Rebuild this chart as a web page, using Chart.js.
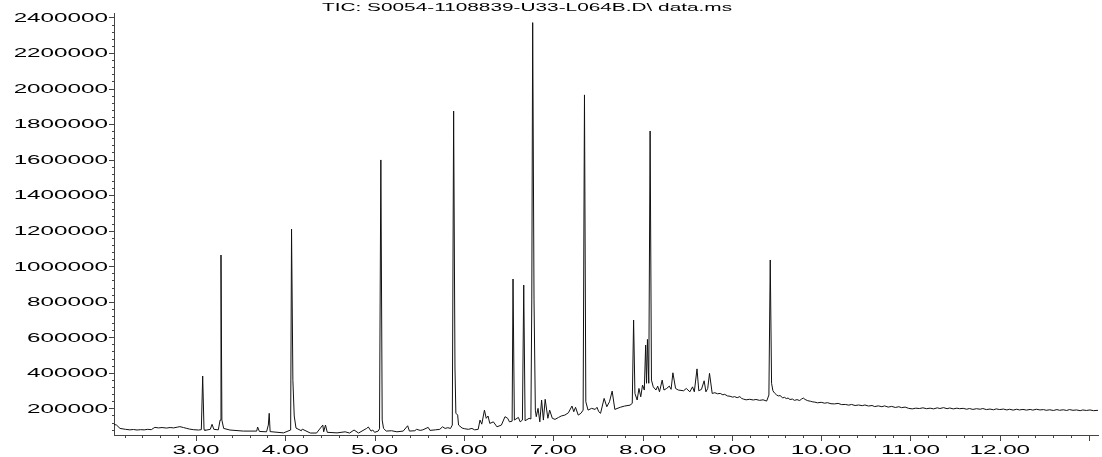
<!DOCTYPE html>
<html>
<head>
<meta charset="utf-8">
<script src="https://cdn.jsdelivr.net/npm/chart.js@4.4.1/dist/chart.umd.min.js"></script>
<style>
    html, body { margin: 0; padding: 0; background: #ffffff; }
    #wrap { width: 1102px; height: 457px; }
</style>
</head>
<body>
<div id="wrap"><canvas id="ticChart" width="1102" height="457"></canvas></div>
<script>
// Titel en assen
const chartTitle = 'TIC: S0054-1108839-U33-L064B.D\\ data.ms';
const xMajorTicks = [3, 4, 5, 6, 7, 8, 9, 10, 11, 12, 13];
const xTickLabels = ['3.00', '4.00', '5.00', '6.00', '7.00', '8.00', '9.00', '10.00', '11.00', '12.00', ''];
const yMajorTicks = [200000, 400000, 600000, 800000, 1000000, 1200000, 1400000, 1600000, 1800000, 2000000, 2200000, 2400000];
const yTickLabels = ['200000', '400000', '600000', '800000', '1000000', '1200000', '1400000', '1600000', '1800000', '2000000', '2200000', '2400000'];

const retentionTimes = [
    2.08, 2.11, 2.15, 2.21, 2.26, 2.30, 2.34, 2.38, 2.42, 2.46, 2.50,
    2.52, 2.54, 2.58, 2.62, 2.67, 2.71, 2.75, 2.79, 2.82, 2.86, 2.89, 2.93, 2.97, 3.03,
    3.06, 3.075, 3.09, 3.10, 3.16, 3.18, 3.20, 3.25, 3.27, 3.28, 3.29, 3.31, 3.38,
    3.53, 3.68, 3.69, 3.71, 3.79, 3.81, 3.82, 3.83, 3.98, 4.06, 4.07, 4.085, 4.10, 4.12,
    4.18, 4.19, 4.28, 4.35, 4.42, 4.43, 4.45, 4.47, 4.58, 4.67, 4.72, 4.77, 4.82,
    4.91, 4.93, 4.96, 4.98, 5.00, 5.04, 5.055, 5.07, 5.085, 5.10, 5.13, 5.19, 5.25,
    5.32, 5.37, 5.39, 5.45, 5.47, 5.51, 5.54, 5.60, 5.62, 5.68, 5.73, 5.76, 5.79,
    5.82, 5.85, 5.87, 5.885, 5.90, 5.91, 5.93, 5.94, 5.98, 6.01, 6.05, 6.09, 6.12,
    6.16, 6.18, 6.20, 6.23, 6.25, 6.27, 6.29, 6.33, 6.37, 6.42, 6.46, 6.49, 6.51,
    6.54, 6.55, 6.565, 6.61, 6.63, 6.655, 6.67, 6.685, 6.73, 6.75, 6.76, 6.77, 6.785,
    6.80, 6.81, 6.83, 6.85, 6.87, 6.89, 6.91, 6.94, 6.96, 6.99, 7.02, 7.06, 7.09,
    7.13, 7.17, 7.21, 7.23, 7.25, 7.28, 7.31, 7.335, 7.35, 7.365, 7.39, 7.43, 7.47,
    7.49, 7.51, 7.53, 7.57, 7.60, 7.63, 7.66, 7.69, 7.75, 7.80, 7.86, 7.885, 7.90,
    7.915, 7.94, 7.96, 7.98, 8.00, 8.02, 8.035, 8.045, 8.055, 8.07, 8.085, 8.10, 8.12,
    8.15, 8.17, 8.19, 8.22, 8.24, 8.27, 8.30, 8.32, 8.34, 8.37, 8.40, 8.46, 8.49,
    8.53, 8.56, 8.58, 8.61, 8.63, 8.66, 8.69, 8.71, 8.73, 8.75, 8.78,
    8.81, 8.84, 8.87, 8.90, 8.92, 8.95, 8.98, 9.01, 9.03, 9.06, 9.09, 9.11, 9.13, 9.16, 9.20, 9.24, 9.27, 9.31, 9.35, 9.39,
    9.415, 9.43, 9.445, 9.46, 9.48, 9.50, 9.52, 9.54, 9.57, 9.59, 9.61, 9.63, 9.65, 9.68, 9.70, 9.73, 9.76, 9.78, 9.80, 9.82, 9.85, 9.88, 9.90,
    9.93, 9.96, 10.00, 10.04, 10.07, 10.11, 10.15, 10.19, 10.23, 10.27, 10.31, 10.34, 10.38, 10.42, 10.46, 10.49, 10.53, 10.57, 10.60, 10.64,
    10.68, 10.71, 10.75, 10.79, 10.83, 10.87, 10.90, 10.94, 10.98, 11.02, 11.06, 11.10, 11.14, 11.18, 11.22, 11.26, 11.30, 11.33, 11.37, 11.41,
    11.44, 11.48, 11.52, 11.55, 11.59, 11.63, 11.66, 11.70, 11.74, 11.78, 11.81, 11.85, 11.89, 11.93, 11.96, 12.00, 12.04, 12.08, 12.11, 12.15,
    12.19, 12.22, 12.26, 12.30, 12.34, 12.37, 12.41, 12.45, 12.49, 12.52, 12.56, 12.60, 12.64, 12.67, 12.71, 12.75, 12.78, 12.82, 12.86, 12.90,
    12.93, 12.97, 13.01, 13.05, 13.10
];
const abundances = [
    110000, 106000, 87000, 82000, 79000, 81000, 78000, 80000, 79000, 82000, 80000,
    87000, 93000, 90000, 92000, 89000, 92000, 90000, 94000, 97000, 92000, 88000, 83000, 80000, 78000,
    80000, 382000, 80000, 76000, 82000, 110000, 82000, 79000, 134000, 1063000, 134000, 87000, 78000,
    72000, 72000, 95000, 70000, 68000, 106000, 172000, 69000, 62000, 78000, 1209000, 358000, 157000, 89000,
    74000, 83000, 61000, 61000, 106000, 68000, 106000, 65000, 62000, 68000, 61000, 78000, 61000,
    87000, 95000, 72000, 78000, 65000, 72000, 85000, 1598000, 134000, 87000, 72000, 74000, 68000,
    72000, 102000, 72000, 74000, 82000, 76000, 79000, 93000, 76000, 79000, 82000, 96000, 87000,
    91000, 87000, 106000, 1873000, 427000, 173000, 162000, 106000, 89000, 85000, 82000, 87000, 79000,
    82000, 134000, 111000, 190000, 144000, 157000, 115000, 124000, 96000, 106000, 153000, 144000, 124000,
    128000, 928000, 134000, 149000, 124000, 134000, 894000, 130000, 144000, 140000, 810000, 2371000, 810000,
    190000, 153000, 200000, 124000, 247000, 134000, 251000, 144000, 190000, 144000, 138000, 149000, 157000,
    162000, 175000, 213000, 181000, 206000, 162000, 172000, 190000, 1964000, 237000, 190000, 200000, 194000,
    206000, 181000, 172000, 256000, 209000, 237000, 297000, 194000, 206000, 213000, 218000, 228000, 697000,
    284000, 247000, 312000, 265000, 331000, 303000, 556000, 341000, 588000, 341000, 1761000, 359000, 321000,
    303000, 325000, 293000, 359000, 303000, 312000, 325000, 307000, 400000, 312000, 303000, 299000, 312000,
    293000, 321000, 293000, 422000, 299000, 307000, 355000, 293000, 312000, 397000, 284000,
    288000, 282000, 284000, 276000, 279000, 270000, 268000, 263000, 266000, 260000, 266000, 256000, 252000, 248000, 251000, 247000, 250000, 245000, 248000, 241000,
    275000, 1035000, 341000, 299000, 285000, 276000, 270000, 272000, 259000, 262000, 255000, 258000, 250000, 252000, 245000, 249000, 244000, 252000, 258000, 250000, 243000, 240000, 237000,
    235000, 231000, 234000, 229000, 232000, 226000, 225000, 228000, 221000, 222000, 218000, 222000, 216000, 219000, 215000, 219000, 213000, 216000, 210000, 214000,
    209000, 214000, 207000, 211000, 205000, 209000, 204000, 207000, 200000, 197000, 201000, 199000, 203000, 198000, 201000, 197000, 203000, 199000, 204000, 198000,
    202000, 197000, 201000, 198000, 200000, 195000, 199000, 194000, 198000, 195000, 199000, 193000, 196000, 192000, 197000, 193000, 196000, 191000, 195000, 190000,
    195000, 191000, 194000, 190000, 194000, 190000, 195000, 191000, 193000, 189000, 192000, 188000, 193000, 189000, 192000, 188000, 193000, 189000, 191000, 187000,
    191000, 188000, 191000, 187000, 189000
];

if (retentionTimes.length !== abundances.length) {
    console.error('Lengte klopt niet:', retentionTimes.length, abundances.length);
}

const STRETCH = 2.02;
const FONT_FAMILY = '"Liberation Sans", Arial, Helvetica, sans-serif';
const AXIS_COLOR = '#444444';

function drawStretchedText(ctx, text, x, y, align, size) {
    ctx.save();
    ctx.font = size + 'px ' + FONT_FAMILY;
    ctx.fillStyle = '#000000';
    ctx.textAlign = align;
    ctx.textBaseline = 'alphabetic';
    ctx.translate(x, y);
    ctx.scale(STRETCH, 1);
    ctx.fillText(text, 0, 0);
    ctx.restore();
}

// Tekent titel, maatstreepjes en labels in de uitgerekte stijl van het origineel
const chemstationAxes = {
    id: 'chemstationAxes',
    afterDraw(chart) {
        const ctx = chart.ctx;
        const xScale = chart.scales.x;
        const yScale = chart.scales.y;
        const area = chart.chartArea;

        ctx.save();
        ctx.strokeStyle = AXIS_COLOR;
        ctx.lineWidth = 1;
        ctx.beginPath();

        // x-as: kleine streepjes elke 0.2 min
        for (let t = 2.2; t <= xScale.max + 1e-9; t += 0.2) {
            const px = Math.round(xScale.getPixelForValue(t)) + 0.5;
            const isMajor = Math.abs(t - Math.round(t)) < 1e-6;
            ctx.moveTo(px, area.bottom);
            ctx.lineTo(px, area.bottom + (isMajor ? 6 : 3));
        }

        // y-as: kleine streepjes elke 40000
        for (let v = 80000; v <= yScale.max; v += 40000) {
            const py = Math.round(yScale.getPixelForValue(v)) + 0.5;
            const isMajor = v % 200000 === 0;
            ctx.moveTo(area.left, py);
            ctx.lineTo(area.left - (isMajor ? 5 : 2), py);
        }
        ctx.stroke();
        ctx.restore();

        xMajorTicks.forEach((t, i) => {
            if (!xTickLabels[i]) return;
            drawStretchedText(ctx, xTickLabels[i], xScale.getPixelForValue(t), area.bottom + 19, 'center', 12);
        });

        yMajorTicks.forEach((v, i) => {
            drawStretchedText(ctx, yTickLabels[i], area.left - 6, yScale.getPixelForValue(v) + 4.3, 'right', 12);
        });

        drawStretchedText(ctx, chartTitle, 322, 10.8, 'left', 10.3);
    }
};

const ctx = document.getElementById('ticChart').getContext('2d');
const ticChart = new Chart(ctx, {
    type: 'line',
    data: {
        datasets: [{
            label: 'TIC',
            data: retentionTimes.map((t, i) => ({ x: t, y: abundances[i] })),
            borderColor: '#111111',
            borderWidth: 1,
            pointRadius: 0,
            tension: 0,
            fill: false
        }]
    },
    options: {
        responsive: false,
        devicePixelRatio: 1,
        animation: false,
        parsing: false,
        layout: {
            padding: { left: 114, right: 4, top: 13, bottom: 22 }
        },
        plugins: {
            legend: { display: false },
            title: { display: false },
            tooltip: { enabled: false }
        },
        scales: {
            x: {
                type: 'linear',
                min: 2.082,
                max: 13.1,
                ticks: { display: false },
                grid: { display: false, drawTicks: false },
                border: { display: true, color: AXIS_COLOR, width: 1 }
            },
            y: {
                type: 'linear',
                min: 50000,
                max: 2425000,
                ticks: { display: false },
                grid: { display: false, drawTicks: false },
                border: { display: true, color: AXIS_COLOR, width: 1 }
            }
        }
    },
    plugins: [chemstationAxes]
});
</script>
</body>
</html>
